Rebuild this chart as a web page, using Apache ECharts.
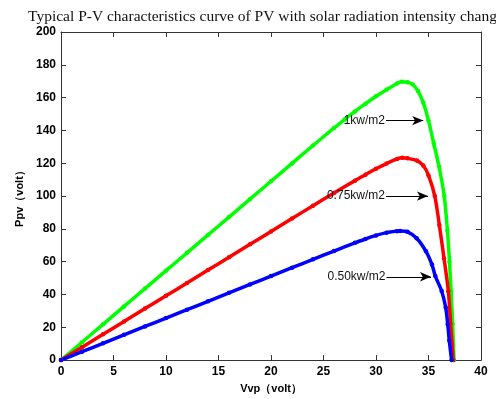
<!DOCTYPE html>
<html>
<head>
<meta charset="utf-8">
<script src="https://cdn.jsdelivr.net/npm/echarts@6/dist/echarts.min.js"></script>
<style>html,body{margin:0;padding:0;background:#fff}#c{width:496px;height:399px}</style>
</head>
<body>
<div id="c"></div>
<script>
// ---- data ----
var titleText = 'Typical P-V characteristics curve of PV with solar radiation intensity chang';
var xName = 'Vvp\uFF08volt\uFF09';
var yName = 'Ppv\uFF08volt\uFF09';

var greenV = [0,2,4,6,8,10,12,14,16,18,20,22,24,26,27,28,29,30,31,32,32.45,33,33.5,34,34.5,35,35.5,36,36.5,36.8,37.0,37.15,37.3,37.43];
var greenP = [0,10.9,21.8,32.7,43.6,54.5,65.4,76.3,87.2,98.1,109,119.9,130.8,141.5,146.6,151.6,156.3,160.8,164.8,168.6,169.6,169.3,168,164,157,146,132,118,100,79,60,42,22,0];

var redV = [0,2,4,6,8,10,12,14,16,18,20,22,24,26,28,29,30,31,32,32.5,33,33.9,34.5,35,35.6,36.03,36.48,36.89,37.11,37.36];
var redP = [0,7.8,15.7,23.5,31.4,39.2,47,54.9,62.7,70.6,78.4,86.3,94.1,101.9,109.4,113,116.6,119.8,122.6,123.3,123,121.6,118.6,112.6,100,82.4,62,42,22,0];

var blueV = [0,2,4,6,8,10,12,14,16,18,20,22,24,26,28,29,30,31,32,32.3,33,33.87,34.76,35.33,35.65,36.25,36.64,36.83,36.98,37.2];
var blueP = [0,5.1,10.2,15.4,20.5,25.6,30.7,35.8,41,46.1,51.2,56.3,61.4,66.5,71.5,73.8,76,77.7,78.6,78.7,78.2,74.3,66.3,58.2,51.2,42.1,32,21.9,11.9,0];

var labels = ['1kw/m2', '0.75kw/m2', '0.50kw/m2'];
var arrowY = [146, 100, 50.8];
var arrowX0 = [30.95, 30.95, 31.0];
var arrowX1 = [34.5, 34.95, 35.24];

var xTicks = {min: 0, max: 40, interval: 5};
var yTicks = {min: 0, max: 200, interval: 20};

function zip(a, b) { return a.map(function (v, i) { return [v, b[i]]; }); }

var chart = echarts.init(document.getElementById('c'), null, {renderer: 'canvas'});
var tickFont = {fontFamily: 'Liberation Sans, Arial', fontWeight: 'bold', fontSize: 12, color: '#000'};
var axisLine = {show: true, onZero: false, lineStyle: {color: '#333', width: 1}};
var tick = {show: true, inside: true, length: 5, lineStyle: {color: '#333'}};

function arrowMark(i) {
  return [
    {coord: [arrowX0[i], arrowY[i]], symbol: 'none',
     label: {show: true, position: 'start', formatter: labels[i], distance: 1,
             fontFamily: 'Liberation Sans, Arial', fontSize: 12, color: '#111'}},
    {coord: [arrowX1[i], arrowY[i]], symbol: 'arrow', symbolSize: [7, 11]}
  ];
}

function series(name, color, v, p, i) {
  return {
    name: name, type: 'line', data: zip(v, p),
    smooth: 0.3, symbol: 'circle', symbolSize: 4.5, showSymbol: true,
    itemStyle: {color: color}, lineStyle: {color: color, width: 3.5},
    animation: false, z: 3,
    markLine: {
      silent: true, animation: false,
      lineStyle: {color: '#000', width: 1, type: 'solid'},
      data: [arrowMark(i)]
    }
  };
}

chart.setOption({
  animation: false,
  backgroundColor: '#fff',
  title: {
    text: titleText, left: 23, top: 4,
    textStyle: {fontFamily: 'Liberation Serif, Times New Roman', fontWeight: 'normal', fontSize: 15.5, color: '#111'}
  },
  grid: {left: 61, right: 15, top: 32, bottom: 36},
  xAxis: [
    {type: 'value', min: xTicks.min, max: xTicks.max, interval: xTicks.interval, position: 'bottom',
     axisLine: axisLine, axisTick: tick,
     axisLabel: Object.assign({margin: 6}, tickFont), splitLine: {show: false},
     name: xName, nameLocation: 'middle', nameGap: 21,
     nameTextStyle: {fontFamily: 'Liberation Sans, Arial', fontWeight: 'bold', fontSize: 11, color: '#000'}},
    {type: 'value', min: xTicks.min, max: xTicks.max, interval: xTicks.interval, position: 'top',
     axisLine: axisLine, axisTick: tick,
     axisLabel: {show: false}, splitLine: {show: false}}
  ],
  yAxis: [
    {type: 'value', min: yTicks.min, max: yTicks.max, interval: yTicks.interval, position: 'left',
     axisLine: axisLine, axisTick: tick,
     axisLabel: Object.assign({margin: 5}, tickFont), splitLine: {show: false},
     name: yName, nameLocation: 'middle', nameGap: 36,
     nameTextStyle: {fontFamily: 'Liberation Sans, Arial', fontWeight: 'bold', fontSize: 11, color: '#000'}},
    {type: 'value', min: yTicks.min, max: yTicks.max, interval: yTicks.interval, position: 'right',
     axisLine: axisLine, axisTick: tick,
     axisLabel: {show: false}, splitLine: {show: false}}
  ],
  series: [
    series('1kw/m2', '#00ff00', greenV, greenP, 0),
    series('0.75kw/m2', '#ff0000', redV, redP, 1),
    series('0.50kw/m2', '#0000ff', blueV, blueP, 2)
  ]
});
</script>
</body>
</html>
